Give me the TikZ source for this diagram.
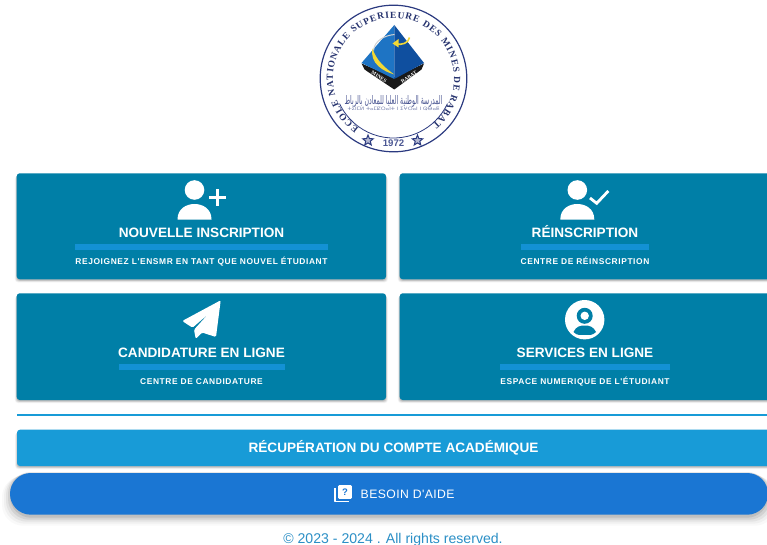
\documentclass[tikz,border=0pt]{standalone}
\usepackage{fontspec}
\setmainfont{Liberation Sans}
\newfontfamily\logoserif{Liberation Serif}
\newfontfamily\arabicfont[Script=Arabic]{DejaVu Sans}
\newfontfamily\tifont{DejaVu Sans}
\newfontfamily\subfont[LetterSpace=7.2]{Liberation Sans}
\newfontfamily\helpfont[LetterSpace=3.6]{Liberation Sans}
\TeXXeTstate=1
\usetikzlibrary{decorations.text,shapes.geometric}
\definecolor{cardc}{HTML}{007FA7}
\definecolor{barc}{HTML}{1391D4}
\definecolor{recc}{HTML}{189BD7}
\definecolor{helpc}{HTML}{1A76D3}
\definecolor{navy}{HTML}{2B3A80}
\definecolor{footc}{HTML}{2B8FC6}
\definecolor{pyrl}{HTML}{1E74C4}
\definecolor{pyrr}{HTML}{0F4F9F}
\definecolor{swoosh}{HTML}{F2D835}
\tikzset{
  card/.style={fill=cardc,rounded corners=3pt},
  bar/.style={fill=barc},
  ttl/.style={anchor=base,inner sep=0pt,text=white,font=\fontsize{13.6}{14}\selectfont\bfseries},
  subt/.style={anchor=base,inner sep=0pt,text=white,font=\fontsize{8.4}{9}\subfont\bfseries},
  iconw/.style={fill=white},
  logostar/.style={star,star points=5,star point ratio=2.3,minimum size=11pt,inner sep=0pt,draw=navy,line width=1pt,fill=navy!35},
}
\newcommand{\softshadow}[5]{% x1 y1 x2 y2 r
  \foreach \s/\o in {3/0.05,2/0.06,1/0.08,0/0.10}{
    \fill[black,opacity=\o,rounded corners=#5pt]
      ({#1-\s*0.6},{#2-1-\s*0.6}) rectangle ({#3+\s*0.6},{#4-1.2-\s*0.6});
  }
}
\newcommand{\personicon}[1]{%
  \fill[iconw] (#1,-190) circle (9.8);
  \fill[iconw] ({#1-17},-219.5) .. controls ({#1-17},-208.5) and ({#1-8},-204) .. (#1,-204)
     .. controls ({#1+8},-204) and ({#1+17},-208.5) .. ({#1+17},-219.5) -- cycle;
}
\begin{document}
\begin{tikzpicture}[x=1pt,y=1pt]
\useasboundingbox (0,0) rectangle (767,-545);
\fill[white] (0,0) rectangle (767,-545);
\clip (0,0) rectangle (767,-545);

% logo
\begin{scope}[shift={(393.5,-78.5)}]
  \draw[navy,line width=1.2pt] (0,0) circle (73.3);
  \draw[navy,line width=0.8pt] (205:59.5pt) arc (205:335:59.5pt);
  \path[decorate,decoration={text along path,text align={fit to path},
     text={|\fontsize{9.4}{10}\logoserif\bfseries\color{navy!85!black}|ECOLE NATIONALE SUPERIEURE DES MINES DE RABAT}}]
     (235:60.5pt) arc (235:-50:60.5pt);
  % pyramid
  \fill[black!90] (-32,15) -- (-29,9) -- (0.8,-11) -- (28,9) -- (30.5,15) -- (0.8,1) -- cycle;
  \fill[pyrl] (0.8,53.5) -- (-32,15.5) -- (0.8,-0.5) -- cycle;
  \fill[pyrr] (0.8,53.5) -- (30.5,15.5) -- (0.8,-0.5) -- cycle;
  \draw[gray!35,line width=1pt] (-20,28) .. controls (-19,38) and (-9,43) .. (1,44);
  \fill[swoosh] (-21,30) .. controls (-24,15) and (-10,7) .. (0.8,4)
     .. controls (-9,11) and (-17,18) .. (-21,30) -- cycle;
  \draw[swoosh,line width=1.6pt] (16,41) .. controls (15,35) and (8,33.5) .. (3,34.5);
  \fill[swoosh] (-1,35) -- (5,39.5) -- (5,31) -- cycle;
  \node[inner sep=0pt,rotate=-31,text=white] (mines) at (-14.5,1.6) {\fontsize{5.2}{5}\logoserif\bfseries MINES};
  \node[inner sep=0pt,rotate=33,text=white] (rabat) at (15.5,1.6) {\fontsize{5.2}{5}\logoserif\bfseries RABAT};
  % Arabic and Amazigh lines
  \node[inner sep=0pt,text=navy!85] (ar) at (0,-23) {\resizebox{98pt}{9pt}{\arabicfont\beginR المدرسة الوطنية العليا للمعادن بالرباط\endR}};
  \node[inner sep=0pt,text=navy!65] (tz) at (0,-30) {\resizebox{92pt}{3.4pt}{\tifont ⵜⵉⵏⵎⵍ ⵜⴰⵎⵇⵔⴰⵏⵜ ⵏ ⵉⵖⵔⴰⵏ ⵏ ⵕⴱⴰⵟ}};
  \node[logostar] (s1) at (-25.5,-62) {};
  \node[logostar] (s2) at (24,-62) {};
  \node[inner sep=0pt,text=navy!85] (yr) at (0,-64.5) {\fontsize{9.6}{10}\selectfont\bfseries 1972};
\end{scope}

% cards
\softshadow{16.7}{-173.3}{386}{-279.3}{3}
\softshadow{399.7}{-173.3}{790}{-279.3}{3}
\softshadow{16.7}{-293.3}{386}{-400}{3}
\softshadow{399.7}{-293.3}{790}{-400}{3}
\fill[card] (16.7,-173.3) rectangle (386,-279.3);
\fill[card] (399.7,-173.3) rectangle (790,-279.3);
\fill[card] (16.7,-293.3) rectangle (386,-400);
\fill[card] (399.7,-293.3) rectangle (790,-400);

% card 1
\personicon{194.5}
\draw[white,line width=3.2pt] (209.3,-197.5) -- (226,-197.5) (217.7,-189.2) -- (217.7,-205.8);
\node[ttl] (t1) at (201.5,-237.3) {NOUVELLE INSCRIPTION};
\fill[bar] (75,-244.4) rectangle (328,-249.7);
\node[subt] (s1t) at (201.5,-264.7) {REJOIGNEZ L'ENSMR EN TANT QUE NOUVEL ÉTUDIANT};

% card 2
\personicon{577.3}
\draw[white,line width=2.8pt] (590,-198) -- (596.7,-203.3) -- (608.3,-191);
\node[ttl] (t2) at (585,-237.3) {RÉINSCRIPTION};
\fill[bar] (520.7,-244.4) rectangle (649.3,-249.7);
\node[subt] (s2t) at (585,-264.7) {CENTRE DE RÉINSCRIPTION};

% card 3
\fill[iconw,rounded corners=1.3pt]
  (220.7,-300.3) -- (182.2,-321) -- (192.5,-327.7) -- (208,-314.3) -- (194,-329.7)
  -- (195.7,-338.8) -- (202,-332.5) -- (216,-337) -- cycle;
\node[ttl] (t3) at (201.5,-357.5) {CANDIDATURE EN LIGNE};
\fill[bar] (119,-364.4) rectangle (285,-369.7);
\node[subt] (s3t) at (201.5,-384.7) {CENTRE DE CANDIDATURE};

% card 4
\fill[iconw] (584.7,-319.7) circle (19.7);
\fill[cardc] (584.7,-315.8) circle (8);
\fill[white] (584.7,-315.8) circle (4.2);
\fill[cardc] (573.5,-332) .. controls (576,-326.5) and (580,-325.5) .. (584.7,-325.5)
   .. controls (589.4,-325.5) and (593.4,-326.5) .. (596,-332)
   .. controls (592,-336) and (589,-334.8) .. (584.7,-334.8)
   .. controls (580,-334.8) and (577.5,-336) .. (573.5,-332) -- cycle;
\node[ttl] (t4) at (585,-357.5) {SERVICES EN LIGNE};
\fill[bar] (500,-364.4) rectangle (670,-369.7);
\node[subt] (s4t) at (585,-384.7) {ESPACE NUMERIQUE DE L'ÉTUDIANT};

% separator
\draw[recc,line width=2pt] (17,-414.7) -- (790,-414.7);

% recovery button
\softshadow{17}{-429.7}{790}{-466}{3}
\fill[recc,rounded corners=3pt] (17,-429.7) rectangle (790,-466);
\node[ttl] (rec) at (393.5,-452.7) {RÉCUPÉRATION DU COMPTE ACADÉMIQUE};

% help pill with soft shadow
\foreach \s/\o in {8/0.025,6/0.035,4/0.05,2/0.07,0/0.09}{
  \fill[black,opacity=\o,rounded corners=21pt] ({10-\s},{-473+1-\s*0.5}) rectangle ({768+\s},{-514.7-3-\s});
}
\fill[helpc,rounded corners=20.8pt] (10,-473) rectangle (768,-514.7);
\draw[white,line width=1.3pt,line join=round] (335,-488) -- (335,-501.2) -- (349,-501.2);
\fill[white,rounded corners=1pt] (338.2,-485.2) rectangle (351.8,-498.8);
\node[inner sep=0pt,text=helpc] (q) at (345,-492) {\fontsize{9.5}{10}\selectfont\bfseries ?};
\node[anchor=base west,inner sep=0pt,text=white] (help) at (360.5,-498) {\fontsize{12.2}{13}\helpfont BESOIN D'AIDE};

% footer
\node[anchor=base,inner sep=0pt,text=footc] (foot) at (393,-543.5) {\fontsize{14.1}{15}\selectfont © 2023 - 2024 . All rights reserved.};
\end{tikzpicture}
\end{document}
